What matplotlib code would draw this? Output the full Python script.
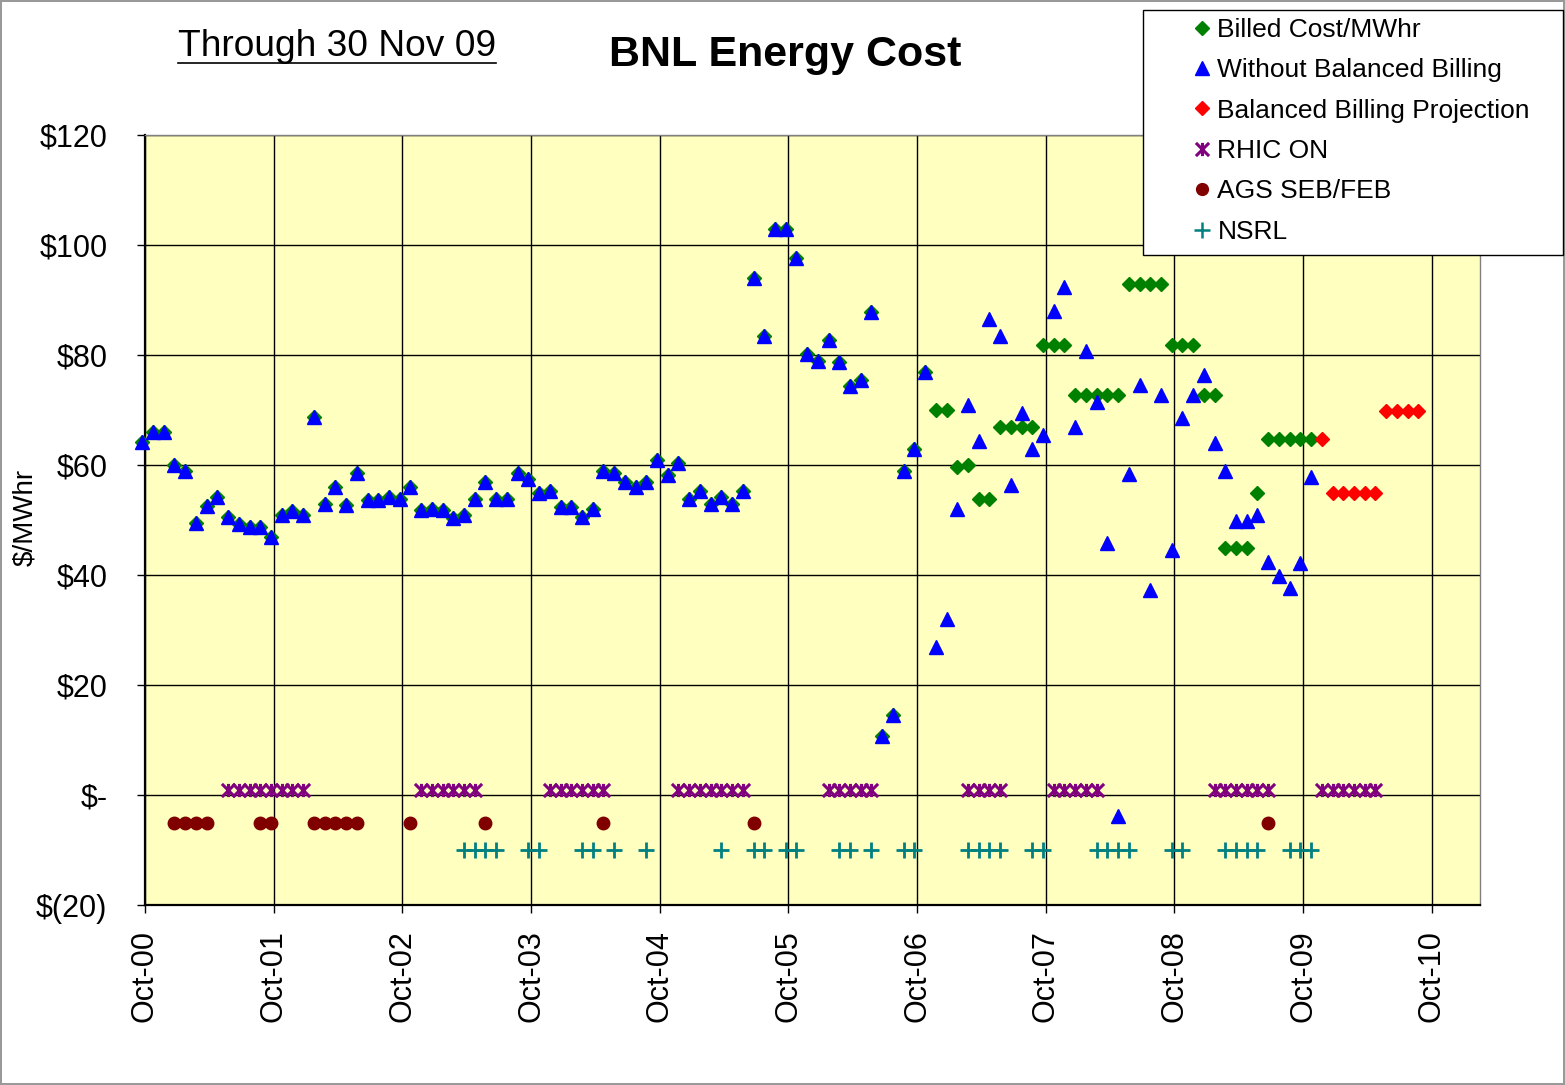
import numpy as np
import matplotlib.pyplot as plt
from matplotlib.path import Path
from matplotlib.lines import Line2D
from matplotlib.patches import Rectangle

plt.rcParams['font.family'] = ['Liberation Sans', 'DejaVu Sans']

# month index: 0 = Oct-00
without_bb = [64.2, 66, 66, 60, 59, 49.5, 52.5, 54.2, 50.5, 49.3, 48.7, 48.7,
              47, 51, 51.6, 51, 68.7, 53, 56, 52.7, 58.5, 53.6, 53.6, 54.2,
              53.8, 56, 51.8, 52, 51.8, 50.4, 51, 53.8, 57, 53.8, 53.8, 58.5,
              57.4, 55, 55.3, 52.4, 52.4, 50.5, 52, 58.9, 58.5, 57, 56, 57,
              61, 58.2, 60.4, 53.8, 55.3, 53, 54.2, 53, 55.3, 94, 83.5, 103,
              103, 97.6, 80.2, 79, 82.7, 78.7, 74.4, 75.5, 87.8, 10.7, 14.5, 59,
              63, 77, 27, 32, 52, 71, 64.3, 86.5, 83.5, 56.4, 69.4, 63,
              65.5, 88, 92.4, 67, 80.7, 71.5, 45.8, -3.8, 58.4, 74.5, 37.3, 72.7,
              44.5, 68.5, 72.7, 76.4, 64, 59, 49.8, 49.8, 51, 42.4, 39.8, 37.6,
              42.2, 57.8]

# billed cost equals the unbalanced cost up to Nov-06, then balanced billing
billed_after = [70, 70, 59.6, 60, 53.8, 53.8, 67, 67, 67, 67, 81.8, 81.8, 81.8,
                72.7, 72.7, 72.7, 72.7, 72.7, 93, 93, 93, 93, 81.8, 81.8, 81.8,
                72.7, 72.7, 45, 45, 45, 55, 64.7, 64.7, 64.7, 64.7, 64.7]
billed = without_bb[:74] + billed_after

proj_start = 110
projection = [64.7, 55, 55, 55, 55, 55, 69.8, 69.8, 69.8, 69.8]

rhic_months = [8, 9, 10, 11, 12, 13, 14, 15, 26, 27, 28, 29, 30, 31,
               38, 39, 40, 41, 42, 43, 50, 51, 52, 53, 54, 55, 56,
               64, 65, 66, 67, 68, 77, 78, 79, 80, 85, 86, 87, 88, 89,
               100, 101, 102, 103, 104, 105, 110, 111, 112, 113, 114, 115]
ags_months = [3, 4, 5, 6, 11, 12, 16, 17, 18, 19, 20, 25, 32, 43, 57, 105]
nsrl_months = [30, 31, 32, 33, 36, 37, 41, 42, 44, 47, 54, 57, 58, 60, 61,
               65, 66, 68, 71, 72, 77, 78, 79, 80, 83, 84, 89, 90, 91, 92,
               96, 97, 101, 102, 103, 104, 107, 108, 109]
rhic_level, ags_level, nsrl_level = 1, -5, -10

x_labels = ['Oct-00', 'Oct-01', 'Oct-02', 'Oct-03', 'Oct-04', 'Oct-05',
            'Oct-06', 'Oct-07', 'Oct-08', 'Oct-09', 'Oct-10']
y_values = [-20, 0, 20, 40, 60, 80, 100, 120]
y_labels = ['$(20)', '$-', '$20', '$40', '$60', '$80', '$100', '$120']

# points sit a little before the first of the month on the date axis
shift = -0.25

# excel style star: an X with a vertical bar through it
star = Path([(-1, -1), (1, 1), (-1, 1), (1, -1), (0, -1), (0, 1)],
            [Path.MOVETO, Path.LINETO, Path.MOVETO, Path.LINETO,
             Path.MOVETO, Path.LINETO])

W, H = 1565, 1085
fig = plt.figure(figsize=(W / 100, H / 100), dpi=100)
fig.patch.set_edgecolor('#999999')
fig.patch.set_linewidth(1.5)
ax = fig.add_axes([145 / W, 1 - 905 / H, (1480 - 145) / W, (905 - 135) / H])
ax.set_facecolor('#FFFFC0')

m = np.arange(len(without_bb)) + shift
ax.plot(m, billed, 'D', color='#008000', ms=7.5, clip_on=False, zorder=3)
ax.plot(m, without_bb, '^', color='#0000FF', ms=10.5, clip_on=False, zorder=4)
ax.plot(np.arange(proj_start, proj_start + len(projection)) + shift, projection,
        'D', color='#FF0000', ms=7.5, clip_on=False, zorder=3)
ax.plot(np.array(rhic_months) + shift, [rhic_level] * len(rhic_months),
        ls='none', marker=star, color='#800080', ms=9.5, mew=2.2, zorder=3)
ax.plot(np.array(ags_months) + shift, [ags_level] * len(ags_months),
        'o', color='#800000', ms=9, zorder=3)
ax.plot(np.array(nsrl_months) + shift, [nsrl_level] * len(nsrl_months),
        '+', color='#008080', ms=11, mew=2, zorder=3)

ax.set_xlim(0, 124.5)
ax.set_ylim(-20, 120)
ax.set_xticks(np.arange(0, 121, 12))
ax.set_xticklabels(x_labels, rotation=90, fontsize=22)
ax.set_yticks(y_values)
ax.set_yticklabels(y_labels, fontsize=22)
ax.tick_params(axis='y', length=6, width=1, pad=21)
ax.tick_params(axis='x', length=6, width=1, pad=12)
ax.grid(True, color='black', lw=1)
ax.set_axisbelow(True)
for s in ['left', 'bottom']:
    ax.spines[s].set_linewidth(1.6)
    ax.spines[s].set_color('black')
for s in ['top', 'right']:
    ax.spines[s].set_linewidth(1)
    ax.spines[s].set_color('#808080')

fig.text(25 / W, 1 - 517 / H, '$/MWhr', rotation=90, ha='center', va='center',
         fontsize=20)
fig.text(785 / W, 1 - 55 / H, 'BNL Energy Cost', ha='center', va='center',
         fontsize=31, fontweight='bold')
sub = fig.text(178 / W, 1 - 47 / H, 'Through 30 Nov 09', ha='left', va='center',
               fontsize=26.7)

# legend box overlapping the plot's top right corner
box = Rectangle((1143 / W, 1 - 255 / H), (1563 - 1143) / W, 245 / H,
                transform=fig.transFigure, fc='white', ec='black', lw=1, zorder=9)
fig.add_artist(box)
handles = [
    Line2D([], [], ls='none', marker='D', color='#008000', ms=7.5),
    Line2D([], [], ls='none', marker='^', color='#0000FF', ms=10),
    Line2D([], [], ls='none', marker='D', color='#FF0000', ms=7.5),
    Line2D([], [], ls='none', marker=star, color='#800080', ms=9.5, mew=2.2),
    Line2D([], [], ls='none', marker='o', color='#800000', ms=8.5),
    Line2D([], [], ls='none', marker='+', color='#008080', ms=12, mew=1.8),
]
labels = ['Billed Cost/MWhr', 'Without Balanced Billing',
          'Balanced Billing Projection', 'RHIC ON', 'AGS SEB/FEB', 'NSRL']
leg = fig.legend(handles, labels, loc='upper left',
                 bbox_to_anchor=(1191 / W, 1 - 18 / H), frameon=False,
                 fontsize=19, handlelength=0.8, handletextpad=0.2,
                 labelspacing=0.62, borderpad=0, borderaxespad=0)
leg.set_zorder(10)

# underline for the date note
fig.canvas.draw()
bb = sub.get_window_extent()
fig.add_artist(Line2D([bb.x0 / W, bb.x1 / W], [1 - 63 / H, 1 - 63 / H],
                      transform=fig.transFigure, color='black', lw=1.2))

fig.savefig('out.png', dpi=100)
